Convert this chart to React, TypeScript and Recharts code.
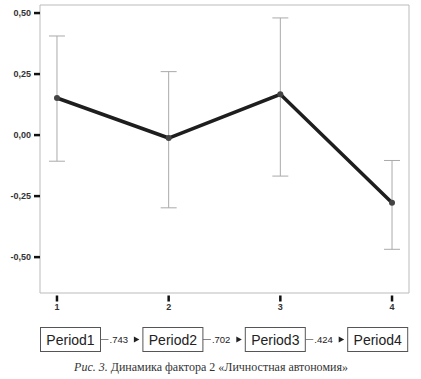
import { LineChart, Line, XAxis, YAxis, ErrorBar, ReferenceArea } from 'recharts';

const periods = [1, 2, 3, 4];
const means = [0.152, -0.012, 0.167, -0.277];
const ciLow = [-0.107, -0.298, -0.168, -0.468];
const ciHigh = [0.406, 0.26, 0.48, -0.104];
const yTicks = [-0.5, -0.25, 0, 0.25, 0.5];

const pathNames = ['Period1', 'Period2', 'Period3', 'Period4'];
const pathCoefs = ['.743', '.702', '.424'];

const data = periods.map((p, i) => ({
  period: p,
  mean: means[i],
  err: [means[i] - ciLow[i], ciHigh[i] - means[i]],
}));

const xDomain = [0.848, 4.152];
const yDomain = [-0.647, 0.533];
const tickFont = 'Liberation Sans, Arial, sans-serif';

function XTick(props: any) {
  const { x, y, payload } = props;
  return (
    <g>
      <line x1={x} x2={x} y1={y + 2.5} y2={y + 8.5} stroke="#111" strokeWidth={2.5} />
      <text x={x} y={y + 17} textAnchor="middle" fontSize={9} fontWeight="bold" fill="#333" fontFamily={tickFont}>
        {payload.value}
      </text>
    </g>
  );
}

function YTick(props: any) {
  const { x, y, payload } = props;
  return (
    <g>
      <line x1={34} x2={40} y1={y} y2={y} stroke="#111" strokeWidth={2.5} />
      <text x={31} y={y + 3} textAnchor="end" fontSize={9} fontWeight="bold" fill="#333" fontFamily={tickFont}>
        {payload.value.toFixed(2).replace('.', ',')}
      </text>
    </g>
  );
}

function PathDiagram() {
  const boxW = 60;
  const boxH = 24;
  const top = 7;
  const step = 102.4;
  return (
    <svg width={421} height={59} style={{ display: 'block' }}>
      {pathNames.map((name, i) => {
        const bx = 40.5 + i * step;
        return (
          <g key={name}>
            <rect x={bx} y={top + 0.5} width={boxW} height={boxH} fill="#fff" stroke="#555" strokeWidth={1} />
            <text x={bx + boxW / 2} y={top + 17.5} textAnchor="middle" fontSize={14} fill="#222" fontFamily={tickFont}>
              {name}
            </text>
          </g>
        );
      })}
      {pathCoefs.map((c, i) => {
        const sx = 40.5 + i * step + boxW;
        const ex = 40.5 + (i + 1) * step;
        const cy = top + 0.5 + boxH / 2;
        return (
          <g key={c}>
            <line x1={sx} x2={sx + 8} y1={cy} y2={cy} stroke="#666" strokeWidth={0.8} />
            <text x={sx + 9} y={cy + 3.5} fontSize={9.5} fill="#222" fontFamily={tickFont}>
              {c}
            </text>
            <path d={`M${ex - 9} ${cy - 3} L${ex - 3.5} ${cy} L${ex - 9} ${cy + 3} Z`} fill="#222" />
          </g>
        );
      })}
      <text x={211} y={51} textAnchor="middle" fontSize={12} fill="#333" fontFamily="Liberation Serif, DejaVu Serif, serif">
        <tspan fontStyle="italic">Рис. 3.</tspan> Динамика фактора 2 «Личностная автономия»
      </text>
    </svg>
  );
}

export default function App() {
  return (
    <div style={{ position: 'absolute', left: 0, top: 0, width: 421, height: 379, background: '#fff' }}>
      <LineChart width={421} height={320} data={data} margin={{ top: 5, right: 12, bottom: 0, left: 0 }}>
        <XAxis
          dataKey="period"
          type="number"
          domain={xDomain}
          ticks={periods}
          axisLine={false}
          tickLine={false}
          tickSize={0}
          tickMargin={0}
          height={27}
          tick={<XTick />}
        />
        <YAxis
          type="number"
          domain={yDomain}
          ticks={yTicks}
          width={40}
          axisLine={false}
          tickLine={false}
          tick={<YTick />}
        />
        <ReferenceArea
          x1={xDomain[0]}
          x2={xDomain[1]}
          y1={yDomain[0]}
          y2={yDomain[1]}
          fill="none"
          fillOpacity={0}
          stroke="#bbb"
          strokeWidth={1}
          ifOverflow="visible"
        />
        <Line
          dataKey="mean"
          stroke="#1e1e1e"
          strokeWidth={3.5}
          dot={{ r: 3, fill: '#444', stroke: 'none' }}
          activeDot={false}
          isAnimationActive={false}
        >
          <ErrorBar dataKey="err" direction="y" width={8} stroke="#aaa" strokeWidth={1} />
        </Line>
      </LineChart>
      <PathDiagram />
    </div>
  );
}
